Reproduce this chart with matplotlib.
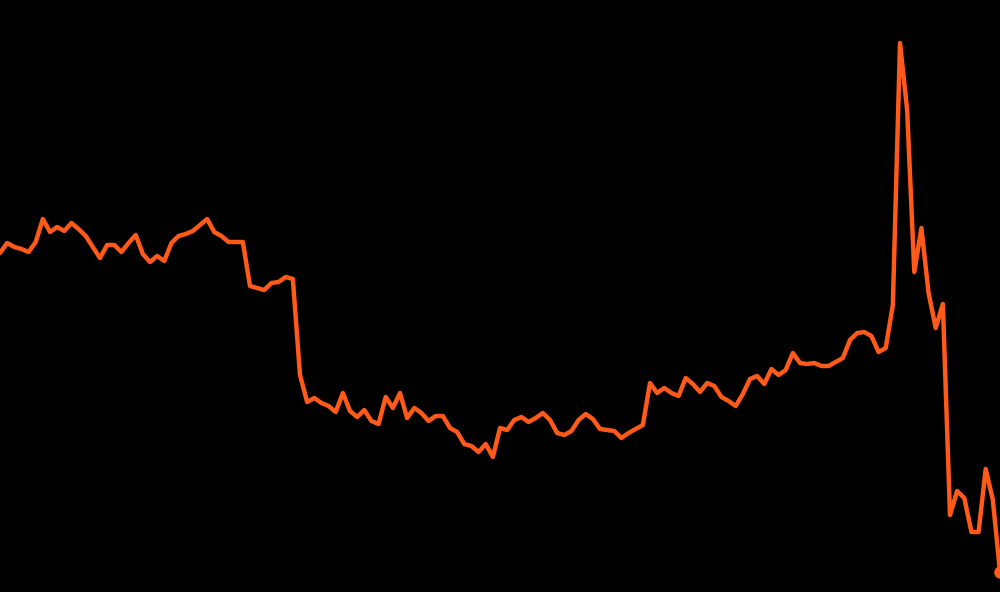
import matplotlib
matplotlib.use("Agg")
import matplotlib.pyplot as plt

# Series (height above the bottom edge, in pixels)
heights_px = [
    253, 243, 247, 249, 252, 242, 219, 232, 227, 231,
    223, 229, 236, 247, 258, 245, 245, 252, 243, 235,
    254, 262, 256, 261, 243, 236, 234, 231, 225, 219,
    232, 236, 242, 242, 242, 286, 288, 290, 283, 282,
    277, 279, 375, 402, 398, 403, 406, 412, 393, 411,
    417, 410, 421, 424, 397, 408, 393, 418, 408, 413,
    421, 416, 416, 428, 432, 444, 446, 452, 444, 457,
    428, 430, 420, 417, 422, 418, 413, 420, 433, 435,
    431, 420, 414, 419, 429, 430, 431, 438, 433, 429,
    425, 383, 393, 388, 393, 396, 378, 384, 392, 383,
    386, 397, 401, 406, 394, 379, 376, 384, 369, 375,
    370, 353, 363, 364, 363, 366, 366, 362, 358, 340,
    333, 332, 336, 352, 348, 305, 43, 110, 272, 228,
    293, 328, 304, 515, 491, 498, 532, 532, 469, 500,
    572,
]
values = [592 - v for v in heights_px]
x = list(range(len(values)))

line_color = "#ff5a1a"

fig = plt.figure(figsize=(10, 5.92), dpi=100, facecolor="black")
ax = fig.add_axes([0, 0, 1, 1])
ax.set_facecolor("black")

ax.plot(x, values, color=line_color, lw=3.2, solid_joinstyle="round", solid_capstyle="round")
ax.plot(x[-1], values[-1], "o", color=line_color, markersize=8)

ax.set_xlim(0, len(values) - 1)
ax.set_ylim(0, 592)
ax.axis("off")

fig.savefig("out.png", dpi=100, facecolor="black")
